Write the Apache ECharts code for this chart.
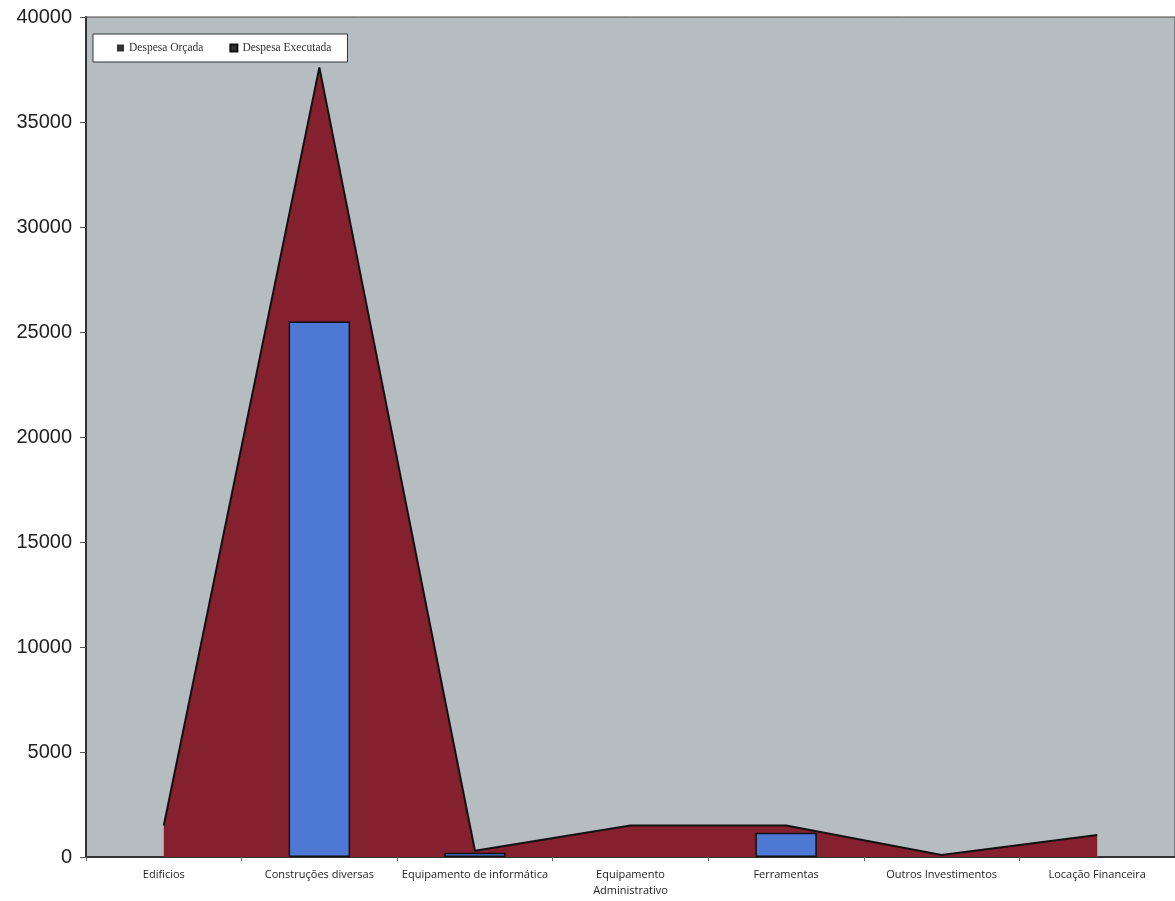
<!DOCTYPE html>
<html>
<head>
<meta charset="utf-8">
<script src="https://cdn.jsdelivr.net/npm/echarts@6/dist/echarts.min.js"></script>
<style>
  html, body { margin: 0; padding: 0; background: #fff; }
  #chart { width: 1175px; height: 901px; }
</style>
</head>
<body>
<div id="chart"></div>
<script>
const categories = [
  "Edificios",
  "Construções diversas",
  "Equipamento de informática",
  "Equipamento\nAdministrativo",
  "Ferramentas",
  "Outros Investimentos",
  "Locação Financeira",
];
const orcada = [1500, 37600, 300, 1500, 1500, 100, 1050];
const executada = [null, 25500, 200, null, 1150, null, null];

const chart = echarts.init(document.getElementById("chart"));

chart.setOption({
  animation: false,
  grid: {
    left: 86,
    right: 0,
    top: 17,
    bottom: 44,
    show: true,
    backgroundColor: "#b5bdc1",
    borderColor: "#444",
    borderWidth: 1,
  },
  legend: {
    left: 93,
    top: 34,
    padding: [8, 16, 8, 24],
    backgroundColor: "#fff",
    borderColor: "#333",
    borderWidth: 1,
    itemWidth: 7,
    itemHeight: 7,
    itemGap: 26,
    textStyle: { fontFamily: "Liberation Serif", fontSize: 11.5, color: "#333" },
    data: [
      { name: "Despesa Orçada", icon: "rect", itemStyle: { color: "#333" } },
      { name: "Despesa Executada", icon: "rect", itemStyle: { color: "#333" } },
    ],
  },
  xAxis: {
    type: "category",
    data: categories,
    boundaryGap: true,
    axisLine: { lineStyle: { color: "#333", width: 2 } },
    axisTick: { show: true, alignWithLabel: false, length: 4, lineStyle: { color: "#666" } },
    axisLabel: {
      interval: 0,
      color: "#222",
      fontFamily: "Open Sans",
      fontSize: 11,
      margin: 10,
      lineHeight: 16,
    },
  },
  yAxis: {
    type: "value",
    min: 0,
    max: 40000,
    interval: 5000,
    splitLine: { show: false },
    axisLine: { show: true, lineStyle: { color: "#333", width: 2 } },
    axisTick: { show: true, inside: false, length: 6, lineStyle: { color: "#555" } },
    axisLabel: {
      color: "#222",
      fontFamily: "Liberation Sans",
      fontSize: 20,
      margin: 14,
      formatter: (v) => String(v),
    },
  },
  series: [
    {
      name: "Despesa Orçada",
      type: "line",
      data: orcada,
      symbol: "none",
      lineStyle: { color: "#111", width: 2 },
      itemStyle: { color: "#333" },
      areaStyle: { color: "#85202f", opacity: 1 },
      z: 2,
    },
    {
      name: "Despesa Executada",
      type: "bar",
      data: executada,
      barWidth: "39.5%",
      itemStyle: { color: "#4d79d4", borderColor: "#111", borderWidth: 1.5 },
      z: 3,
    },
  ],
});
</script>
</body>
</html>
